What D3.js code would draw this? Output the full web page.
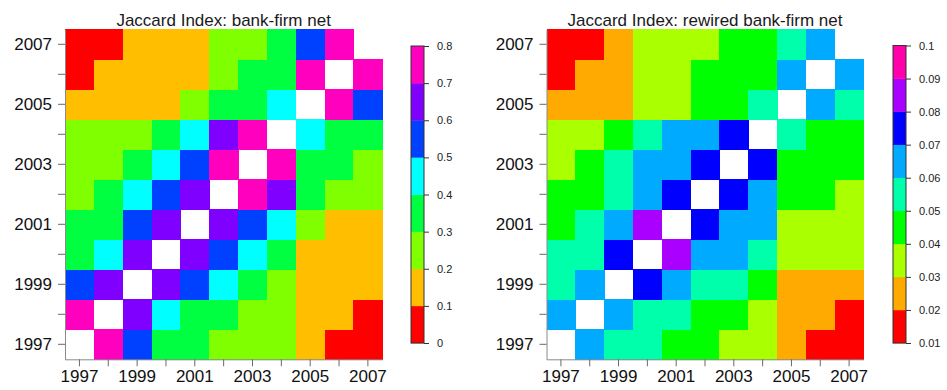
<!DOCTYPE html>
<html>
<head>
<meta charset="utf-8">
<script src="https://cdn.jsdelivr.net/npm/d3@7"></script>
<style>
  html, body { margin: 0; padding: 0; background: #fff; }
  svg { display: block; font-family: "Liberation Sans", Arial, Helvetica, sans-serif; }
</style>
</head>
<body>
<svg id="chart" width="947" height="390"></svg>
<script>
// ---------- DATA ----------
const years = [1997, 1998, 1999, 2000, 2001, 2002, 2003, 2004, 2005, 2006, 2007];
const yearLabels = ["1997", "", "1999", "", "2001", "", "2003", "", "2005", "", "2007"];

// Jaccard index, original bank-firm network (rows = year on y axis, 1997..2007; cols = year on x axis)
const jaccardOriginal = [
  [null, 0.74, 0.53, 0.36, 0.31, 0.27, 0.24, 0.21, 0.16, 0.08, 0.06],
  [0.74, null, 0.66, 0.46, 0.37, 0.32, 0.28, 0.24, 0.18, 0.13, 0.09],
  [0.53, 0.66, null, 0.68, 0.56, 0.44, 0.36, 0.29, 0.19, 0.16, 0.12],
  [0.36, 0.46, 0.68, null, 0.69, 0.57, 0.47, 0.38, 0.18, 0.17, 0.14],
  [0.31, 0.37, 0.56, 0.69, null, 0.67, 0.58, 0.46, 0.22, 0.19, 0.17],
  [0.27, 0.32, 0.44, 0.57, 0.67, null, 0.72, 0.63, 0.33, 0.28, 0.25],
  [0.24, 0.28, 0.36, 0.47, 0.58, 0.72, null, 0.73, 0.38, 0.34, 0.29],
  [0.21, 0.24, 0.29, 0.38, 0.46, 0.63, 0.73, null, 0.45, 0.37, 0.33],
  [0.16, 0.18, 0.19, 0.18, 0.22, 0.33, 0.38, 0.45, null, 0.76, 0.58],
  [0.08, 0.13, 0.16, 0.17, 0.19, 0.28, 0.34, 0.37, 0.76, null, 0.75],
  [0.06, 0.09, 0.12, 0.14, 0.17, 0.25, 0.29, 0.33, 0.58, 0.75, null]
];

// Jaccard index, rewired bank-firm network
const jaccardRewired = [
  [null, 0.064, 0.056, 0.053, 0.046, 0.042, 0.036, 0.033, 0.024, 0.018, 0.015],
  [0.064, null, 0.066, 0.058, 0.054, 0.047, 0.043, 0.038, 0.027, 0.022, 0.017],
  [0.056, 0.066, null, 0.074, 0.065, 0.057, 0.052, 0.045, 0.028, 0.025, 0.021],
  [0.053, 0.058, 0.074, null, 0.083, 0.067, 0.062, 0.055, 0.035, 0.032, 0.031],
  [0.046, 0.054, 0.065, 0.083, null, 0.075, 0.068, 0.063, 0.038, 0.036, 0.034],
  [0.042, 0.047, 0.057, 0.067, 0.075, null, 0.077, 0.069, 0.044, 0.041, 0.038],
  [0.036, 0.043, 0.052, 0.062, 0.068, 0.077, null, 0.076, 0.048, 0.046, 0.043],
  [0.033, 0.038, 0.045, 0.055, 0.063, 0.069, 0.076, null, 0.057, 0.049, 0.045],
  [0.024, 0.027, 0.028, 0.035, 0.038, 0.044, 0.048, 0.057, null, 0.065, 0.058],
  [0.018, 0.022, 0.025, 0.032, 0.036, 0.041, 0.046, 0.049, 0.065, null, 0.066],
  [0.015, 0.017, 0.021, 0.031, 0.034, 0.038, 0.043, 0.045, 0.058, 0.066, null]
];

const breaksOriginal = [0, 0.1, 0.2, 0.3, 0.4, 0.5, 0.6, 0.7, 0.8];
const colorsOriginal = ["#FF0000", "#FFBF00", "#80FF00", "#00FF40", "#00FFFF", "#0040FF", "#8000FF", "#FF00BF"];
const breaksRewired = [0.01, 0.02, 0.03, 0.04, 0.05, 0.06, 0.07, 0.08, 0.09, 0.1];
const colorsRewired = ["#FF0000", "#FFAA00", "#AAFF00", "#00FF00", "#00FFAA", "#00AAFF", "#0000FF", "#AA00FF", "#FF00AA"];
const barTickLabelsOriginal = ["0", "0.1", "0.2", "0.3", "0.4", "0.5", "0.6", "0.7", "0.8"];
const barTickLabelsRewired = ["0.01", "0.02", "0.03", "0.04", "0.05", "0.06", "0.07", "0.08", "0.09", "0.1"];

const titles = ["Jaccard Index: bank-firm net", "Jaccard Index: rewired bank-firm net"];

// ---------- DRAW ----------
const svg = d3.select("#chart");

function drawPanel(opts) {
  const { left, right, top, bottom, matrix, breaks, colors, tickLabels, title, bar } = opts;
  const g = svg.append("g");

  const x = d3.scaleBand().domain(years).range([left, right]).padding(0);
  const y = d3.scaleBand().domain(years).range([bottom, top]).padding(0);
  const color = d3.scaleThreshold().domain(breaks.slice(1, -1)).range(colors);

  const cells = [];
  matrix.forEach((row, i) => row.forEach((v, j) => {
    if (v !== null) cells.push({ ry: years[i], cx: years[j], v });
  }));

  g.append("g").selectAll("rect").data(cells).join("rect")
    .attr("x", d => x(d.cx))
    .attr("y", d => y(d.ry))
    .attr("width", x.bandwidth() + 0.5)
    .attr("height", y.bandwidth() + 0.5)
    .attr("fill", d => color(d.v))
    .attr("shape-rendering", "crispEdges");

  // axes
  const xAxis = d3.axisBottom(x).tickSize(7).tickPadding(4)
    .tickFormat((d, i) => yearLabels[i]).tickSizeOuter(0);
  const yAxis = d3.axisLeft(y).tickSize(7).tickPadding(6)
    .tickFormat((d, i) => yearLabels[i]).tickSizeOuter(0);

  const gx = g.append("g").attr("transform", `translate(0,${bottom})`).call(xAxis);
  const gy = g.append("g").attr("transform", `translate(${left},0)`).call(yAxis);
  [gx, gy].forEach(a => {
    a.select(".domain").attr("stroke", "#8a8a8a").attr("stroke-width", 1);
    a.selectAll(".tick line").attr("stroke", "#6a6a6a");
    a.selectAll(".tick text").attr("fill", "#111").style("font-size", "17px")
      .style("font-family", "'Liberation Sans', Arial, sans-serif");
  });

  // title
  g.append("text")
    .attr("x", (left + right) / 2)
    .attr("y", 26)
    .attr("text-anchor", "middle")
    .attr("fill", "#1a1a1a")
    .style("font-size", "17px")
    .text(title);

  // colour bar
  const bs = d3.scaleLinear().domain([breaks[0], breaks[breaks.length - 1]]).range([bar.bottom, bar.top]);
  const bins = colors.map((c, k) => ({ c, lo: breaks[k], hi: breaks[k + 1] }));
  g.append("g").selectAll("rect").data(bins).join("rect")
    .attr("x", bar.left)
    .attr("y", d => bs(d.hi))
    .attr("width", bar.width)
    .attr("height", d => bs(d.lo) - bs(d.hi) + 0.3)
    .attr("fill", d => d.c);
  g.append("rect")
    .attr("x", bar.left).attr("y", bar.top)
    .attr("width", bar.width).attr("height", bar.bottom - bar.top)
    .attr("fill", "none").attr("stroke", "#333").attr("stroke-width", 1);

  const bAxis = d3.axisRight(bs).tickValues(breaks).tickSize(5).tickPadding(8)
    .tickFormat((d, i) => tickLabels[i]);
  const gb = g.append("g").attr("transform", `translate(${bar.left + bar.width},0)`).call(bAxis);
  gb.select(".domain").remove();
  gb.selectAll(".tick line").attr("stroke", "#333");
  gb.selectAll(".tick text").attr("fill", "#222").style("font-size", "11px")
    .style("font-family", "'Liberation Sans', Arial, sans-serif");
}

drawPanel({
  left: 65, right: 382.3, top: 29.3, bottom: 359.3,
  matrix: jaccardOriginal, breaks: breaksOriginal, colors: colorsOriginal,
  tickLabels: barTickLabelsOriginal, title: titles[0],
  bar: { left: 411, width: 13, top: 46, bottom: 343 }
});

drawPanel({
  left: 546.5, right: 863.5, top: 29.3, bottom: 359.3,
  matrix: jaccardRewired, breaks: breaksRewired, colors: colorsRewired,
  tickLabels: barTickLabelsRewired, title: titles[1],
  bar: { left: 893, width: 13, top: 45.5, bottom: 343 }
});
</script>
</body>
</html>
